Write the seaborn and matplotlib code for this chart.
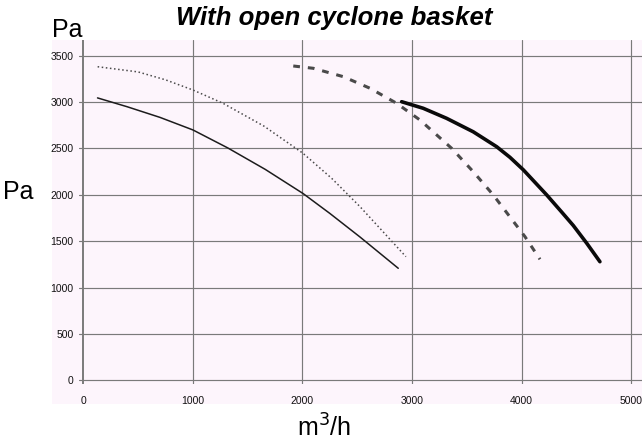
import numpy as np
import pandas as pd
import matplotlib
matplotlib.use("Agg")
import matplotlib.pyplot as plt
import seaborn as sns
from matplotlib.patches import Rectangle

# curves (m3/h, Pa)
thin_solid_x = [130, 400, 700, 1000, 1320, 1660, 2005, 2250, 2525, 2874]
thin_solid_y = [3045, 2950, 2835, 2700, 2505, 2275, 2015, 1800, 1546, 1209]

dotted_x = [131, 500, 750, 1001, 1275, 1650, 2005, 2265, 2525, 2944]
dotted_y = [3381, 3325, 3240, 3130, 2987, 2740, 2448, 2180, 1873, 1334]

dashed_x = [1916, 2099, 2372, 2616, 2859, 3072, 3361, 3558, 3741, 4030, 4167]
dashed_y = [3389, 3364, 3274, 3149, 2987, 2807, 2502, 2250, 1999, 1550, 1306]

thick_solid_x = [2905, 3102, 3315, 3558, 3772, 3893, 4015, 4228, 4365, 4471, 4593, 4714]
thick_solid_y = [3004, 2933, 2825, 2680, 2519, 2405, 2270, 2000, 1815, 1670, 1480, 1280]

x_ticks = [0, 1000, 2000, 3000, 4000, 5000]
y_ticks = [0, 500, 1000, 1500, 2000, 2500, 3000, 3500]

sns.set_theme(style="white")
plt.rcParams['font.family'] = ['Liberation Sans', 'DejaVu Sans']

W, H = 642, 441
fig = plt.figure(figsize=(W / 100, H / 100), dpi=100)

# pink scanned paper behind the grid and tick labels
paper = Rectangle((51.7 / W, 1 - 404 / H), (W - 51.7) / W, (404 - 40) / H,
                  transform=fig.transFigure, facecolor='#fdf5fc',
                  edgecolor='none', zorder=-1)
fig.add_artist(paper)

ax = fig.add_axes([79 / W, 1 - 384 / H, (W - 79) / W, (384 - 40) / H])
ax.set_zorder(2)
ax.set_facecolor('none')
for s in ax.spines.values():
    s.set_visible(False)

ax.set_xlim(-39, 5098)
ax.set_ylim(-38, 3669)
ax.set_xticks(x_ticks)
ax.set_yticks(y_ticks)
ax.tick_params(length=0, labelsize=7.5, labelcolor='#111111')
ax.tick_params(axis='x', pad=9)
ax.tick_params(axis='y', pad=4)

for yv in y_ticks:
    ax.axhline(yv, color='#7a7a7a', lw=0.85, zorder=1)
for xv in x_ticks:
    ax.axvline(xv, color='#7a7a7a', lw=1.4 if xv == 0 else 0.85, zorder=1)

sns.lineplot(x=thin_solid_x, y=thin_solid_y, ax=ax, estimator=None,
             color='#1c1c1c', lw=1.1, zorder=3)
sns.lineplot(x=dotted_x, y=dotted_y, ax=ax, estimator=None,
             color='#4a4a4a', lw=1.1, linestyle=(0, (1, 1.7)), zorder=3)
sns.lineplot(x=dashed_x, y=dashed_y, ax=ax, estimator=None,
             color='#4a4a4a', lw=2.2, linestyle=(0, (2.2, 2.6)), zorder=3)
sns.lineplot(x=thick_solid_x, y=thick_solid_y, ax=ax, estimator=None,
             color='#0a0a0a', lw=2.6, zorder=4)
ax.set_xlabel('')
ax.set_ylabel('')

fig.text(334 / W, 1 - 25 / H, 'With open cyclone basket', ha='center', va='baseline',
         fontsize=18.5, fontweight='bold', fontstyle='italic', color='black')
fig.text(51.7 / W, 1 - 36.7 / H, 'Pa', ha='left', va='baseline', fontsize=18, color='black')
fig.text(3 / W, 1 - 192 / H, 'Pa', ha='left', va='center', fontsize=18, color='black')
fig.text(324 / W, 1 - 437 / H, 'm$^3$/h', ha='center', va='baseline', fontsize=18,
         color='black')

fig.savefig('out.png', dpi=100)
